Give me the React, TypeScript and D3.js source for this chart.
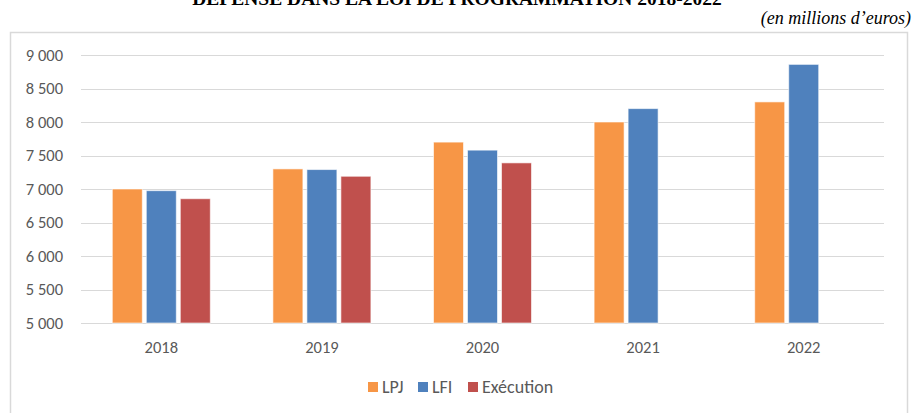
import React from "react";
import * as d3 from "d3";

const years = ["2018", "2019", "2020", "2021", "2022"];
const seriesNames = ["LPJ", "LFI", "Exécution"];
const lpj = [7000, 7300, 7700, 8000, 8300];
const lfi = [6975, 7290, 7580, 8200, 8860];
const execution: (number | null)[] = [6855, 7190, 7390, null, null];
const yTicks = [5000, 5500, 6000, 6500, 7000, 7500, 8000, 8500, 9000];
const colors = ["#F79646", "#4F81BD", "#C0504D"];

const W = 915;
const H = 413;

export default function App() {
  const x = d3.scaleBand<string>().domain(years).range([81, 884]);
  const y = d3.scaleLinear().domain([5000, 9000]).range([323, 55]);
  const barW = 30;
  const step = 34;
  const data = [lpj, lfi, execution];
  const fmt = (v: number) => d3.format(",")(v).replace(",", " ");
  const font = "Calibri, Carlito, 'Open Sans', sans-serif";

  const legendX = [368, 418, 468];

  return (
    <svg width={W} height={H} style={{ position: "absolute", left: 0, top: 0 }}>
      <rect width={W} height={H} fill="#fff" />
      <text x={457} y={5} textAnchor="middle" fontFamily="'Liberation Serif', 'Times New Roman', serif" fontWeight="bold" fontSize={19.5} fill="#000">
        DÉPENSE DANS LA LOI DE PROGRAMMATION 2018-2022
      </text>
      <text x={911} y={24} textAnchor="end" fontFamily="'Liberation Serif', 'Times New Roman', serif" fontStyle="italic" fontSize={18} fill="#000">
        (en millions d’euros)
      </text>
      <rect x={10.5} y={32.5} width={897} height={400} fill="#fff" stroke="#d9d9d9" strokeWidth={1.5} />
      {yTicks.map((t) => (
        <g key={t}>
          <line x1={81} x2={884} y1={Math.round(y(t)) + 0.5} y2={Math.round(y(t)) + 0.5} stroke="#d9d9d9" strokeWidth={1} />
          <text x={63} y={y(t) + 5.5} textAnchor="end" fontFamily={font} fontSize={16.5} fill="#595959">
            {fmt(t)}
          </text>
        </g>
      ))}
      {years.map((yr, j) => {
        const cx = (x(yr) as number) + x.bandwidth() / 2;
        return (
          <g key={yr}>
            {data.map((s, i) => {
              const v = s[j];
              if (v == null) return null;
              const bx = cx - 49 + i * step;
              return (
                <rect
                  key={i}
                  x={bx}
                  y={y(v)}
                  width={barW}
                  height={y(5000) - y(v)}
                  fill={colors[i]}
                  stroke="#fff"
                  strokeOpacity={0.6}
                  strokeWidth={1}
                />
              );
            })}
            <text x={cx} y={353} textAnchor="middle" fontFamily={font} fontSize={16.5} fill="#595959">
              {yr}
            </text>
          </g>
        );
      })}
      {seriesNames.map((n, i) => (
        <g key={n}>
          <rect x={legendX[i]} y={382} width={10} height={10} fill={colors[i]} />
          <text x={legendX[i] + 14} y={392.5} fontFamily={font} fontSize={18} fill="#595959">
            {n}
          </text>
        </g>
      ))}
    </svg>
  );
}
